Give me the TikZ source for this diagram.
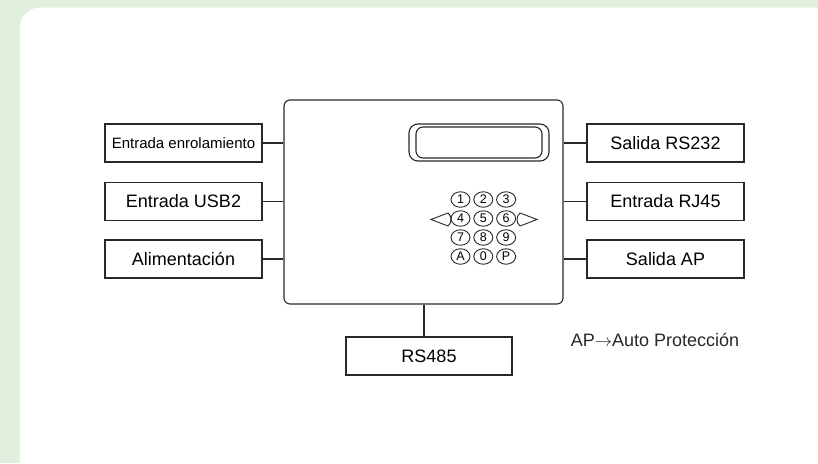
\documentclass[tikz,border=0pt]{standalone}
\usepackage{fontspec}
\setmainfont{Liberation Sans}
\usepackage{tikz}
\usetikzlibrary{shapes.geometric}
\definecolor{fondoverde}{RGB}{225,239,221}
\definecolor{trazo}{RGB}{40,40,40}

\tikzset{
  bloque/.style={draw=trazo,line width=1.1pt,minimum width=157pt,minimum height=38pt,inner sep=0pt,font=\fontsize{18}{20}\selectfont},
  tecla/.style={draw=trazo,ellipse,line width=0.9pt,minimum width=19pt,minimum height=15.5pt,inner sep=0pt,font=\fontsize{12.5}{13}\selectfont},
  enlace/.style={draw=trazo,line width=1.1pt}
}

\begin{document}
\begin{tikzpicture}[x=1pt,y=-1pt]
\useasboundingbox (0,0) rectangle (818,463);
\fill[fondoverde] (0,0) rectangle (818,463);
\fill[white,rounded corners=20pt] (20,7.5) rectangle (840,484);

% equipo central
\node[draw=trazo,line width=1.1pt,rounded corners=6pt,minimum width=279pt,minimum height=204pt](panel) at (423.5,202){};
\node[draw=trazo,line width=1.1pt,rounded corners=9pt,minimum width=140pt,minimum height=37pt](pantalla) at (479,142.5){};
\node[draw=trazo,line width=1.1pt,rounded corners=7pt,minimum width=126pt,minimum height=31pt](visor) at (pantalla.center){};

% teclado
\foreach \t [count=\i from 0] in {1,2,3,4,5,6,7,8,9,A,0,P}{
  \pgfmathtruncatemacro{\fila}{int(\i/3)}
  \pgfmathtruncatemacro{\col}{mod(\i,3)}
  \node[tecla](k\t) at (460.5+22.8*\col,199.5+19*\fila){\t};
}
\draw[trazo,line width=0.9pt] (448,213) -- (431,219.5) -- (448,226) .. controls (452,223) and (452,216) .. cycle;
\draw[trazo,line width=0.9pt] (520,213) -- (537,219.5) -- (520,226) .. controls (516,223) and (516,216) .. cycle;

% entradas izquierda
\node[bloque,font=\fontsize{15}{16}\selectfont](enrol) at (183.5,143){Entrada enrolamiento};
\node[bloque](usb) at (183.5,201.5){Entrada USB2};
\node[bloque](alim) at (183.5,259){Alimentación};
\draw[enlace] (enrol.east) -- (enrol.east -| panel.west);
\draw[enlace] (usb.east) -- (usb.east -| panel.west);
\draw[enlace] (alim.east) -- (alim.east -| panel.west);

% salidas derecha
\node[bloque](rs232) at (665.5,143){Salida RS232};
\node[bloque](rj45) at (665.5,201.5){Entrada RJ45};
\node[bloque](salap) at (665.5,259){Salida AP};
\draw[enlace] (rs232.west) -- (rs232.west -| panel.east);
\draw[enlace] (rj45.west) -- (rj45.west -| panel.east);
\draw[enlace] (salap.west) -- (salap.west -| panel.east);

% bus inferior
\node[bloque,minimum width=166pt](rs485) at (429,356){RS485};
\draw[enlace] ([xshift=-5pt]rs485.north) -- ([xshift=-5pt]rs485.north |- panel.south);

\node[font=\fontsize{18}{20}\selectfont,text=trazo](nota) at (655,340){AP$\rightarrow$Auto Protección};
\end{tikzpicture}
\end{document}
